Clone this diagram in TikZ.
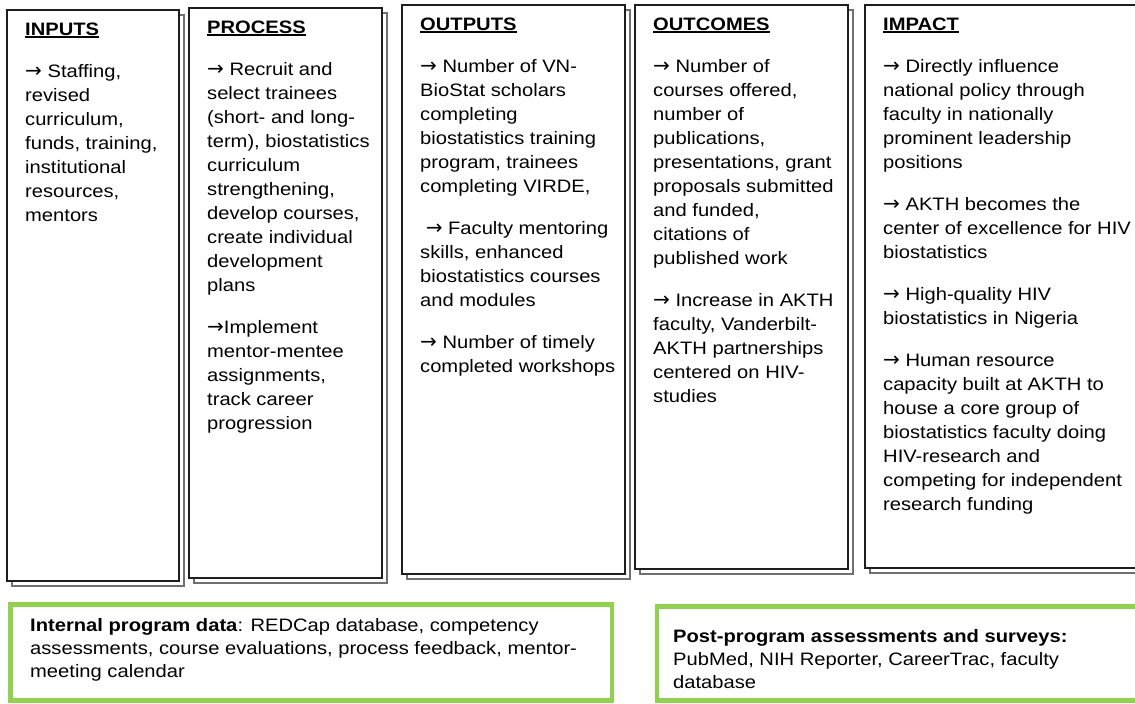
\documentclass[tikz,border=0pt]{standalone}
\usepackage{fontspec}
\setmainfont{Liberation Sans}[FakeStretch=1.12]
\newfontfamily\arrowFont{DejaVu Sans}
\usepackage{tikz}
\usetikzlibrary{positioning}
\tikzstyle{canvas} = [x = 1pt, y = -1pt]
\definecolor{pageLine}{RGB}{30,30,30}
\definecolor{shadowLine}{RGB}{112,112,112}
\definecolor{sourceGreen}{RGB}{146,208,80}
\tikzstyle{frontPage} = [draw=pageLine, fill=white, line width=1.8pt]
\tikzstyle{backPage} = [draw=shadowLine, fill=white, line width=1.6pt]
\tikzstyle{columnText} = [anchor=north west, inner sep=0pt, align=left, font=\fontsize{18}{24}\selectfont]
\tikzstyle{sourceBox} = [draw=sourceGreen, line width=4.6pt]
\tikzstyle{sourceText} = [anchor=north west, inner sep=0pt, align=left, font=\fontsize{18}{23}\selectfont]
\newcommand{\pageShift}{5}
\newcommand{\stackedPage}[5]{
  \filldraw [backPage] (#2 + \pageShift, #3 + \pageShift) rectangle (#4 + \pageShift, #5 + \pageShift);
  \filldraw [frontPage] (#2, #3) rectangle (#4, #5);
  \coordinate (#1) at (#2 + 18, #3 + 8);
}
\newcommand{\heading}[1]{\setbox0\hbox{\textbf{#1}}\rlap{\rule[-2.6pt]{\wd0}{1.4pt}}\box0}
\newcommand{\paraGap}{\\[18pt]}
\newcommand{\ra}{{\arrowFont\fontsize{20}{24}\selectfont →}}

\begin{document}
\begin{tikzpicture}[canvas]
  \clip (0,0) rectangle (1135,704);
  \stackedPage{inputs}{7}{10}{179}{581}
  \stackedPage{process}{189}{8}{382}{578}
  \stackedPage{outputs}{402}{5}{625}{574}
  \stackedPage{outcomes}{635}{5}{848}{569}
  \stackedPage{impact}{865}{5}{1150}{568}

  \node [columnText] (inputsText) at (inputs) {\strut\heading{INPUTS}\paraGap
    \ra{} Staffing,\\ revised\\ curriculum,\\ funds, training,\\ institutional\\ resources,\\ mentors};
  \node [columnText] (processText) at (process) {\strut\heading{PROCESS}\paraGap
    \ra{} Recruit and\\ select trainees\\ (short- and long-\\ term), biostatistics\\ curriculum\\
    strengthening,\\ develop courses,\\ create individual\\ development\\ plans\paraGap
    \ra{}Implement\\ mentor-mentee\\ assignments,\\ track career\\ progression};
  \node [columnText] (outputsText) at (outputs) {\strut\heading{OUTPUTS}\paraGap
    \ra{} Number of VN-\\ BioStat scholars\\ completing\\ biostatistics training\\ program, trainees\\
    completing VIRDE,\paraGap
    \ \ra{} Faculty mentoring\\ skills, enhanced\\ biostatistics courses\\ and modules\paraGap
    \ra{} Number of timely\\ completed workshops};
  \node [columnText] (outcomesText) at (outcomes) {\strut\heading{OUTCOMES}\paraGap
    \ra{} Number of\\ courses offered,\\ number of\\ publications,\\ presentations, grant\\
    proposals submitted\\ and funded,\\ citations of\\ published work\paraGap
    \ra{} Increase in AKTH\\ faculty, Vanderbilt-\\ AKTH partnerships\\ centered on HIV-\\ studies};
  \node [columnText] (impactText) at (impact) {\strut\heading{IMPACT}\paraGap
    \ra{} Directly influence\\ national policy through\\ faculty in nationally\\ prominent leadership\\
    positions\paraGap
    \ra{} AKTH becomes the\\ center of excellence for HIV\\ biostatistics\paraGap
    \ra{} High-quality HIV\\ biostatistics in Nigeria\paraGap
    \ra{} Human resource\\ capacity built at AKTH to\\ house a core group of\\
    biostatistics faculty doing\\ HIV-research and\\ competing for independent\\ research funding};

  % data sources
  \draw [sourceBox] (10.5,604.5) rectangle (612,700.5);
  \draw [sourceBox] (657,606.5) rectangle (1150,700.5);
  \node [sourceText] (internalData) at (30,615) {\strut\textbf{Internal program data}: REDCap database, competency\\
    assessments, course evaluations, process feedback, mentor-\\ meeting calendar};
  \node [sourceText] (postProgram) at (673,626) {\strut\textbf{Post-program assessments and surveys:}\\
    PubMed, NIH Reporter, CareerTrac, faculty\\ database};
\end{tikzpicture}
\end{document}
